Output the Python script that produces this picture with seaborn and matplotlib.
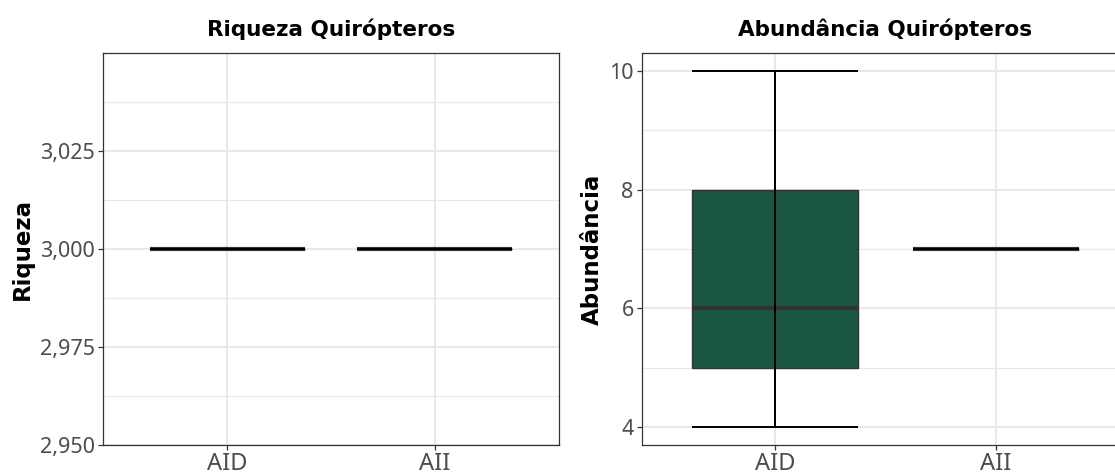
import numpy as np
import pandas as pd
import matplotlib
matplotlib.use("Agg")
import matplotlib.pyplot as plt
from matplotlib.ticker import FixedLocator, FuncFormatter
import seaborn as sns

# Sampling areas and per-sample values
areas = ["AID", "AII"]
riqueza_aid = [3, 3, 3, 3, 3]
riqueza_aii = [3, 3, 3, 3, 3]
abund_aid = [4, 5, 6, 8, 10]
abund_aii = [7, 7, 7, 7, 7]

riqueza_ticks = [2.950, 2.975, 3.000, 3.025]
riqueza_minor = [2.9625, 2.9875, 3.0125, 3.0375]
abund_ticks = [4, 6, 8, 10]
abund_minor = [5, 7, 9]

titles = ["Riqueza Quirópteros", "Abundância Quirópteros"]
ylabels = ["Riqueza", "Abundância"]

df_riq = pd.DataFrame({
    "area": [areas[0]] * len(riqueza_aid) + [areas[1]] * len(riqueza_aii),
    "valor": riqueza_aid + riqueza_aii,
})
df_abu = pd.DataFrame({
    "area": [areas[0]] * len(abund_aid) + [areas[1]] * len(abund_aii),
    "valor": abund_aid + abund_aii,
})

sns.set_theme(style="white")
plt.rcParams["font.family"] = ["DejaVu Sans"]

FILL = "#1a5740"
EDGE = "#333333"
GRID = "#e8e8e8"
TICKTXT = "#4d4d4d"
BOXW = 0.75

W, H = 1115, 475
fig = plt.figure(figsize=(W / 100, H / 100), dpi=100)
top, bottom = 53, 445
ax1 = fig.add_axes([103 / W, 1 - bottom / H, (559 - 103) / W, (bottom - top) / H])
ax2 = fig.add_axes([642 / W, 1 - bottom / H, (1129 - 642) / W, (bottom - top) / H])


def draw_panel(ax, df, ylim, ticks, minor, fmt, title, ylabel):
    sns.boxplot(
        data=df, x="area", y="valor", order=areas, ax=ax,
        width=BOXW, whis=np.inf, showcaps=False, color=FILL,
        saturation=1, linecolor=EDGE, linewidth=1.0,
        medianprops=dict(color=EDGE, linewidth=3.0),
        whiskerprops=dict(color="black", linewidth=1.4),
    )
    # full-range error bars with caps over the boxes
    stats = df.groupby("area")["valor"].agg(["min", "max"]).reindex(areas)
    xs = np.arange(len(areas))
    ax.vlines(xs, stats["min"], stats["max"], color="black", lw=1.4, zorder=5)
    ax.hlines(stats["min"], xs - BOXW / 2, xs + BOXW / 2, color="black", lw=1.4, zorder=5)
    ax.hlines(stats["max"], xs - BOXW / 2, xs + BOXW / 2, color="black", lw=1.4, zorder=5)

    ax.set_xlim(-0.6, len(areas) - 0.4)
    ax.set_ylim(*ylim)
    ax.yaxis.set_major_locator(FixedLocator(ticks))
    ax.yaxis.set_minor_locator(FixedLocator(minor))
    ax.yaxis.set_major_formatter(FuncFormatter(fmt))
    ax.set_axisbelow(True)
    ax.grid(True, which="major", color=GRID, lw=1.4)
    ax.grid(True, which="minor", axis="y", color=GRID, lw=0.9)
    for s in ax.spines.values():
        s.set_visible(True)
        s.set_color(EDGE)
        s.set_linewidth(0.9)
    ax.tick_params(axis="both", which="major", length=3.5, width=0.9,
                   color=EDGE, labelcolor=TICKTXT, bottom=True, left=True)
    ax.tick_params(axis="y", which="major", labelsize=15.5, pad=2.5)
    ax.tick_params(axis="x", which="major", labelsize=17, pad=1.5)
    ax.tick_params(which="minor", length=0)
    for lab in ax.get_xticklabels() + ax.get_yticklabels():
        lab.set_family(["Noto Sans", "DejaVu Sans"])
    ax.set_xlabel("")
    ax.set_ylabel(ylabel, fontsize=16.5, fontweight="bold", color="black", labelpad=4)
    ax.set_title(title, fontsize=15.5, fontweight="bold", color="black", pad=12)


draw_panel(ax1, df_riq, (2.95, 3.05), riqueza_ticks, riqueza_minor,
           lambda v, p: f"{v:.3f}".replace(".", ","), titles[0], ylabels[0])
draw_panel(ax2, df_abu, (3.7, 10.3), abund_ticks, abund_minor,
           lambda v, p: f"{v:g}", titles[1], ylabels[1])

fig.savefig("out.png", dpi=100, facecolor="white")
